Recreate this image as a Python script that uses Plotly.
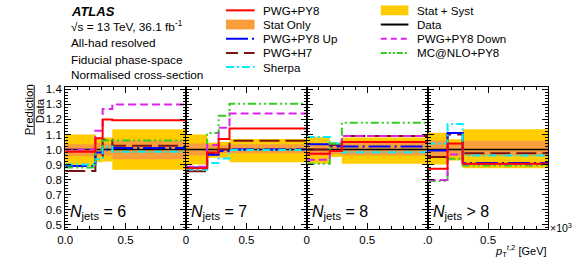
import plotly.graph_objects as go

# ---------------- data ----------------
njets_labels = ["= 6", "= 7", "= 8", "&gt; 8"]
bin_edges = [
    [0.0, 0.25, 0.31, 0.39, 1.0],
    [0.0, 0.175, 0.27, 0.36, 1.0],
    [0.0, 0.19, 0.29, 1.0],
    [0.0, 0.165, 0.29, 1.0],
]
data_ratio = [[1, 1, 1, 1], [1, 1, 1, 1], [1, 1, 1], [1, 1, 1]]
pwg_py8 = [[0.985, 1.075, 1.20, 1.195], [0.875, 0.98, 1.07, 1.14], [0.972, 0.99, 1.05], [0.873, 1.04, 0.905]]
pwg_py8_up = [[0.89, 0.98, 1.00, 1.01], [0.88, 0.965, 0.99, 1.0], [1.035, 1.02, 1.02], [0.993, 1.11, 0.91]]
pwg_py8_down = [[1.0, 1.125, 1.27, 1.30], [0.885, 1.03, 1.145, 1.24], [0.932, 0.99, 1.09], [0.797, 0.967, 0.903]]
pwg_h7 = [[0.858, 0.955, 1.065, 1.025], [0.855, 0.97, 1.0, 1.058], [1.0, 1.03, 1.09], [0.95, 1.10, 0.975]]
sherpa = [[0.90, 0.935, 1.02, 0.985], [0.865, 0.91, 0.94, 0.997], [1.083, 1.04, 0.982], [1.04, 1.17, 0.96]]
mcnlo_py8 = [[0.88, 1.0, 1.06, 1.06], [0.88, 1.11, 1.225, 1.305], [0.905, 1.04, 1.178], [0.79, 0.938, 0.894]]
stat_syst_lo = [[0.89, 0.915, 0.92, 0.865], [0.90, 0.945, 0.945, 0.915], [0.905, 0.95, 0.905], [0.90, 0.927, 0.875]]
stat_syst_hi = [[1.10, 1.07, 1.08, 1.135], [1.10, 1.045, 1.05, 1.07], [1.083, 1.045, 1.08], [1.111, 1.068, 1.135]]
stat_lo = [[0.955, 0.955, 0.96, 0.935], [0.96, 0.97, 0.975, 0.975], [0.96, 0.97, 0.96], [0.955, 0.96, 0.96]]
stat_hi = [[1.035, 1.045, 1.04, 1.06], [1.04, 1.03, 1.03, 1.035], [1.04, 1.03, 1.05], [1.06, 1.04, 1.058]]

x_ticks = [0.0, 0.5]
x_tick_text = [["0.0", "0.5"], ["0", "0.5"], ["0", "0.5"], [".0", "0.5"]]
y_ticks = [0.5, 0.6, 0.7, 0.8, 0.9, 1.0, 1.1, 1.2, 1.3, 1.4]

# ---------------- style ----------------
W, H = 581, 272
FONT = "Liberation Sans"
panel_px = [58, 180.5, 303, 425.5, 548]
y_top_px, y_bot_px = 85, 230
Y_RANGE = [0.472, 1.415]
X_RANGE = [0.0, 1.0]

C_YELLOW = "#ffcc00"
C_ORANGE = "#fa9e3c"
series = [
    # name, values, color, dash, width
    ("Data", data_ratio, "#000000", "solid", 1.6),
    ("PWG+H7", pwg_h7, "#7a1414", "20px,6px", 2.0),
    ("PWG+PY8 Up", pwg_py8_up, "#0000ff", "22px,4px,2px,4px", 2.0),
    ("Sherpa", sherpa, "#00eeff", "8px,3px,2px,3px", 2.0),
    ("MC@NLO+PY8", mcnlo_py8, "#33cc22", "8px,3px,2px,3px,2px,3px", 2.0),
    ("PWG+PY8 Down", pwg_py8_down, "#dd22ee", "8px,4px", 2.0),
    ("PWG+PY8", pwg_py8, "#ff0000", "solid", 2.0),
]


def px_x(p):
    return p / W


def px_y(p):
    return 1 - p / H


fig = go.Figure()
layout = dict(
    width=W, height=H, margin=dict(l=0, r=0, t=0, b=0),
    paper_bgcolor="white", plot_bgcolor="white",
    barmode="overlay", showlegend=False,
    font=dict(family=FONT, size=12, color="black"),
)

for i in range(4):
    s = "" if i == 0 else str(i + 1)
    xa, ya = "x" + s, "y" + s
    edges = bin_edges[i]
    centers = [(a + b) / 2 for a, b in zip(edges[:-1], edges[1:])]
    widths = [b - a for a, b in zip(edges[:-1], edges[1:])]
    # bands
    for lo, hi, col in ((stat_syst_lo[i], stat_syst_hi[i], C_YELLOW), (stat_lo[i], stat_hi[i], C_ORANGE)):
        fig.add_trace(go.Bar(
            x=centers, y=[h - l for l, h in zip(lo, hi)], base=lo, width=widths,
            marker=dict(color=col, line=dict(width=0)), opacity=1,
            xaxis=xa, yaxis=ya, hoverinfo="skip"))
    # lines
    for name, vals, col, dash, lw in series:
        v = vals[i]
        fig.add_trace(go.Scatter(
            x=edges, y=list(v) + [v[-1]], mode="lines", line_shape="hv",
            line=dict(color=col, dash=dash, width=lw), xaxis=xa, yaxis=ya, name=name))

    layout["xaxis" + s] = dict(
        domain=[px_x(panel_px[i]), px_x(panel_px[i + 1])], anchor=ya, range=X_RANGE,
        tickvals=x_ticks, ticktext=x_tick_text[i], ticks="inside", ticklen=6,
        tickcolor="black", showline=True, linecolor="black", linewidth=1.2,
        mirror="allticks", showgrid=False, zeroline=False,
        tickfont=dict(size=11.5, family=FONT),
        minor=dict(dtick=0.1, tick0=0, ticks="inside", ticklen=3, tickcolor="black", showgrid=False),
    )
    layout["yaxis" + s] = dict(
        domain=[px_y(y_bot_px), px_y(y_top_px)], anchor=xa, range=Y_RANGE,
        tickvals=y_ticks, ticktext=[f"{t:.1f}" for t in y_ticks], showticklabels=(i == 0),
        ticks="inside", ticklen=6, tickcolor="black", showline=True, linecolor="black",
        linewidth=1.2, mirror="allticks", showgrid=False, zeroline=False,
        tickfont=dict(size=11.5, family=FONT),
        minor=dict(dtick=0.02, tick0=0.5, ticks="inside", ticklen=3, tickcolor="black", showgrid=False),
    )

annotations = []
shapes = []

# panel labels
for i in range(4):
    annotations.append(dict(
        x=px_x(panel_px[i] + 3), y=px_y(213), xref="paper", yref="paper",
        xanchor="left", yanchor="middle", showarrow=False,
        text=f"<i>N</i><sub>jets</sub> {njets_labels[i]}",
        font=dict(size=16, family=FONT)))

# top-left texts
annotations.append(dict(x=px_x(62), y=px_y(8), xref="paper", yref="paper", xanchor="left",
                        yanchor="middle", showarrow=False, text="<b><i>ATLAS</i></b>",
                        font=dict(size=13, family=FONT)))
info_lines = ["√s = 13 TeV, 36.1 fb<sup>-1</sup>", "All-had resolved", "Fiducial phase-space",
              "Normalised cross-section"]
info_y = [23, 40, 57, 73]
for t, yy in zip(info_lines, info_y):
    annotations.append(dict(x=px_x(62), y=px_y(yy), xref="paper", yref="paper", xanchor="left",
                            yanchor="middle", showarrow=False, text=t,
                            font=dict(size=11.8, family=FONT)))

# legend (manual, two columns)
leg_col1 = [("PWG+PY8", "line", "#ff0000", "solid"),
            ("Stat Only", "box", C_ORANGE, None),
            ("PWG+PY8 Up", "line", "#0000ff", "22px,4px,2px,4px"),
            ("PWG+H7", "line", "#7a1414", "12px,6px"),
            ("Sherpa", "line", "#00eeff", "8px,3px,2px,3px")]
leg_col2 = [("Stat + Syst", "box", C_YELLOW, None),
            ("Data", "line", "#000000", "solid"),
            ("PWG+PY8 Down", "line", "#dd22ee", "6px,4px"),
            ("MC@NLO+PY8", "line", "#33cc22", "6px,2px,2px,2px,2px,2px")]
leg_rows = [6.5, 21, 35.5, 50, 64.5]
for col, (x0, x1, xt) in ((leg_col1, (221, 250, 257)), (leg_col2, (378, 406, 413))):
    for (name, kind, color, dash), yy in zip(col, leg_rows):
        if kind == "box":
            shapes.append(dict(type="rect", xref="paper", yref="paper",
                               x0=px_x(x0), x1=px_x(x1), y0=px_y(yy + 5), y1=px_y(yy - 5),
                               fillcolor=color, line=dict(width=0)))
        else:
            shapes.append(dict(type="line", xref="paper", yref="paper",
                               x0=px_x(x0), x1=px_x(x1), y0=px_y(yy), y1=px_y(yy),
                               line=dict(color=color, width=2, dash=dash)))
        annotations.append(dict(x=px_x(xt), y=px_y(yy), xref="paper", yref="paper",
                                xanchor="left", yanchor="middle", showarrow=False, text=name,
                                font=dict(size=11.6, family=FONT)))

# y title: Prediction / Data
annotations.append(dict(x=px_x(21), y=px_y(108), xref="paper", yref="paper", xanchor="center",
                        yanchor="middle", showarrow=False, text="Prediction", textangle=-90,
                        font=dict(size=11.5, family=FONT)))
annotations.append(dict(x=px_x(32), y=px_y(109), xref="paper", yref="paper", xanchor="center",
                        yanchor="middle", showarrow=False, text="Data", textangle=-90,
                        font=dict(size=11.5, family=FONT)))
shapes.append(dict(type="line", xref="paper", yref="paper", x0=px_x(26.5), x1=px_x(26.5),
                   y0=px_y(83), y1=px_y(134), line=dict(color="black", width=1)))

# x title and exponent
annotations.append(dict(x=px_x(549), y=px_y(253), xref="paper", yref="paper", xanchor="right",
                        yanchor="middle", showarrow=False,
                        text="<i>p</i><sub>T</sub><sup><i>t</i>,2</sup> [GeV]",
                        font=dict(size=11, family=FONT)))
annotations.append(dict(x=px_x(548), y=px_y(229), xref="paper", yref="paper", xanchor="left",
                        yanchor="middle", showarrow=False, text="×10<sup>3</sup>",
                        font=dict(size=10.5, family=FONT)))

layout["annotations"] = annotations
layout["shapes"] = shapes
fig.update_layout(**layout)
fig.write_html(
    "out.html",
    config={"displayModeBar": False},
    post_script="document.body.style.margin='0';document.body.style.padding='0';document.body.style.overflow='hidden';",
)
